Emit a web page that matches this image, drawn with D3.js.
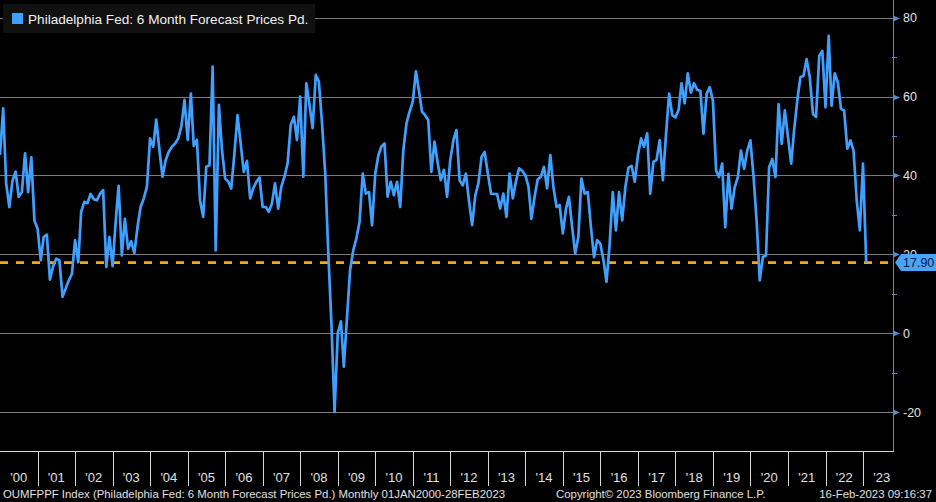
<!DOCTYPE html>
<html>
<head>
<meta charset="utf-8">
<script src="https://cdnjs.cloudflare.com/ajax/libs/d3/7.8.5/d3.min.js"></script>
<style>
  html, body { margin: 0; padding: 0; background: #000; }
  svg { display: block; font-family: "Liberation Sans", Arial, sans-serif; }
</style>
</head>
<body>
<svg id="chart" width="936" height="502"></svg>
<script>
// monthly values, Jan 2000 .. Feb 2023
const startMonth = "2000-01";
const values = [
  45.2, 57, 38, 32, 38.6, 41, 34.6, 35.8, 45.6, 35.8, 44.6, 28.6,
  26.5, 18.5, 24.4, 25, 13.6, 17, 18.9, 18.5, 9.2, 11.3, 13.4, 15,
  23.6, 18, 30.8, 33.3, 33, 35.3, 34, 33.7, 35.4, 36.3, 16.8, 24.4,
  17, 28.6, 37.4, 19.7, 29, 21.4, 23.3, 20.3, 27, 32, 34.2, 37.1,
  49.4, 47.3, 54.2, 46.4, 39.7, 43.9, 46, 47.3, 48.1, 49.4, 52.5, 59.2,
  49, 60.8, 47.5, 49, 33.7, 29.5, 42.2, 42.6, 67.6, 21, 57.9, 46.4,
  39.2, 38.4, 36.7, 45.6, 55.3, 48.1, 40.9, 43.7, 34.2, 36.7, 38.4, 39.5,
  32, 32, 30.8, 32.9, 38, 31.6, 37.1, 39.7, 43.1, 52.8, 54.9, 49,
  60, 39.7, 63.4, 57.9, 52, 65.5, 63.8, 53.2, 40.5, 20.2, 2, -20,
  0, 3, -8.5, 4, 16, 21, 24, 28.2, 40.5, 35.4, 35.8, 27.4,
  40.5, 45.2, 47.3, 48.1, 34.6, 38.4, 35, 38.4, 32, 46.4, 53.2, 56.2,
  58.7, 66.4, 61.7, 56.2, 55.3, 54, 40.9, 48.6, 43.1, 38.8, 41.4, 34.6,
  43.9, 49, 51.5, 38.8, 37.5, 40.5, 33.7, 27.4, 35, 38, 44.7, 46,
  40.5, 35.4, 35.3, 35.3, 31.6, 35.4, 29.5, 40.5, 34.2, 38.4, 41.8, 41.2,
  40.1, 37.1, 29, 34.6, 39, 39.7, 42.2, 36.7, 45.2, 37.1, 32, 32.5,
  25.3, 31.6, 34.6, 27, 20.2, 24.4, 39.2, 35.4, 35.8, 27, 19.3, 23.6,
  22.7, 18.5, 13, 22.7, 35.8, 26.1, 35.8, 28.6, 37.1, 42, 42.4, 38.4,
  45.2, 49.4, 47.3, 50.7, 35.4, 43.5, 43.9, 49, 38.8, 50.3, 60.8, 55.3,
  54.7, 56.6, 63.4, 58.3, 65.9, 61, 63.4, 61.7, 61.5, 50.6, 60.7, 62.4,
  59, 41.3, 39.6, 43, 26.9, 40.4, 31.6, 37, 39.6, 46.3, 41.7, 46.3,
  48.9, 39.6, 28.6, 13.4, 19.3, 19.7, 42.1, 44.2, 39.6, 58.1, 48, 56.5,
  49.7, 43, 51.4, 59, 64.9, 65.3, 69.5, 64.9, 55.6, 54.8, 70.4, 71.6,
  57.3, 75.4, 57.7, 65.9, 63.6, 56.9, 56.5, 46.8, 48.9, 46.3, 33.7, 26.1,
  43, 17.9
];
const lastValue = 17.9;
const yTicks = [-20, 0, 20, 40, 60, 80];
const yMinor = [-10, 10, 30, 50, 70];
const years = d3.range(2000, 2024);
const seriesName = "Philadelphia Fed: 6 Month Forecast Prices Pd.";
const footLeft = "OUMFPPF Index (Philadelphia Fed: 6 Month Forecast Prices Pd.)  Monthly 01JAN2000-28FEB2023";
const footMid = "Copyright\u00A9 2023 Bloomberg Finance L.P.";
const footRight = "16-Feb-2023 09:16:37";

const svg = d3.select("#chart");
const W = 936, axisX = 893, plotBottom = 451;

const t0 = d3.timeParse("%Y-%m")(startMonth);
const data = values.map((v, i) => ({ date: d3.timeMonth.offset(t0, i), v: v }));

const x = d3.scaleTime()
  .domain([new Date(2000, 0, 1), new Date(2023, 0, 1)])
  .range([0, 863]);
const y = d3.scaleLinear().domain([-20, 80]).range([412, 17.8]);

svg.append("rect").attr("width", W).attr("height", 502).attr("fill", "#000");

// gridlines
svg.append("g").selectAll("line").data(yTicks).join("line")
  .attr("x1", 0).attr("x2", axisX)
  .attr("y1", d => Math.round(y(d)) + 0.5).attr("y2", d => Math.round(y(d)) + 0.5)
  .attr("stroke", "#7a7a7a").attr("stroke-width", 1);

// right axis
const ax = svg.append("g");
ax.append("line").attr("x1", axisX + 0.5).attr("x2", axisX + 0.5)
  .attr("y1", 0).attr("y2", plotBottom).attr("stroke", "#4f8fd8").attr("stroke-width", 1);
ax.selectAll(".maj").data(yTicks).join("path")
  .attr("d", d => {
    const yy = Math.round(y(d)) + 0.5;
    return `M${axisX},${yy - 3}L${axisX + 7},${yy}L${axisX},${yy + 3}Z`;
  })
  .attr("fill", "#4f8fd8");
ax.selectAll(".min").data(yMinor).join("line")
  .attr("x1", axisX - 1).attr("x2", axisX + 4)
  .attr("y1", d => Math.round(y(d)) + 0.5).attr("y2", d => Math.round(y(d)) + 0.5)
  .attr("stroke", "#4f8fd8");
ax.selectAll("text").data(yTicks).join("text")
  .attr("x", axisX + 10).attr("y", d => y(d)).attr("dy", "0.36em")
  .attr("fill", "#e0e0e0").attr("font-size", 12.5)
  .text(d => d < 0 ? "-" + Math.abs(d) : d);

// bottom axis
const bx = svg.append("g");
bx.append("line").attr("x1", 0).attr("x2", axisX + 1)
  .attr("y1", plotBottom + 0.5).attr("y2", plotBottom + 0.5)
  .attr("stroke", "#d8d8d8");
bx.selectAll("line.sep").data(years.slice(1)).join("line").attr("class", "sep")
  .attr("x1", d => Math.round(x(new Date(d, 0, 1))) + 0.5)
  .attr("x2", d => Math.round(x(new Date(d, 0, 1))) + 0.5)
  .attr("y1", plotBottom).attr("y2", 486)
  .attr("stroke", "#d8d8d8");
bx.selectAll("text").data(years).join("text")
  .attr("x", d => (x(new Date(d, 0, 1)) + x(new Date(d + 1, 0, 1))) / 2)
  .attr("y", 482).attr("text-anchor", "middle")
  .attr("fill", "#e0e0e0").attr("font-size", 13)
  .text(d => "'" + String(d).slice(2));

// last value reference line
svg.append("line")
  .attr("x1", 0).attr("x2", 889)
  .attr("y1", y(lastValue)).attr("y2", y(lastValue))
  .attr("stroke", "#f5a623").attr("stroke-width", 2.6)
  .attr("stroke-dasharray", "8,8");

// series
const line = d3.line().x(d => x(d.date)).y(d => y(d.v));
svg.append("path").datum(data)
  .attr("d", line)
  .attr("fill", "none")
  .attr("stroke", "#40a0ff")
  .attr("stroke-width", 2.7)
  .attr("stroke-linejoin", "round");

// last value tag
const ty = y(lastValue);
svg.append("path")
  .attr("d", `M${axisX + 2},${ty}L${axisX + 8},${ty - 8.5}L${W},${ty - 8.5}L${W},${ty + 8.5}L${axisX + 8},${ty + 8.5}Z`)
  .attr("fill", "#4ba3f5");
svg.append("text")
  .attr("x", axisX + 10).attr("y", ty).attr("dy", "0.36em")
  .attr("fill", "#062040").attr("font-size", 12.5)
  .text(lastValue.toFixed(2));

// legend
const lg = svg.append("g");
lg.append("rect").attr("x", 3).attr("y", 4).attr("width", 312).attr("height", 29)
  .attr("fill", "#111111");
lg.append("rect").attr("x", 12).attr("y", 13).attr("width", 11).attr("height", 11)
  .attr("fill", "#40a0ff");
lg.append("text").attr("x", 28).attr("y", 23.5)
  .attr("fill", "#f0f0f0").attr("font-size", 13.6)
  .text(seriesName);

// footer
const ft = svg.append("g").attr("fill", "#e0e0e0").attr("font-size", 11.4);
ft.append("text").attr("x", 3).attr("y", 498).text(footLeft);
ft.append("text").attr("x", 556).attr("y", 498).text(footMid);
ft.append("text").attr("x", 932).attr("y", 498).attr("text-anchor", "end").text(footRight);
</script>
</body>
</html>
